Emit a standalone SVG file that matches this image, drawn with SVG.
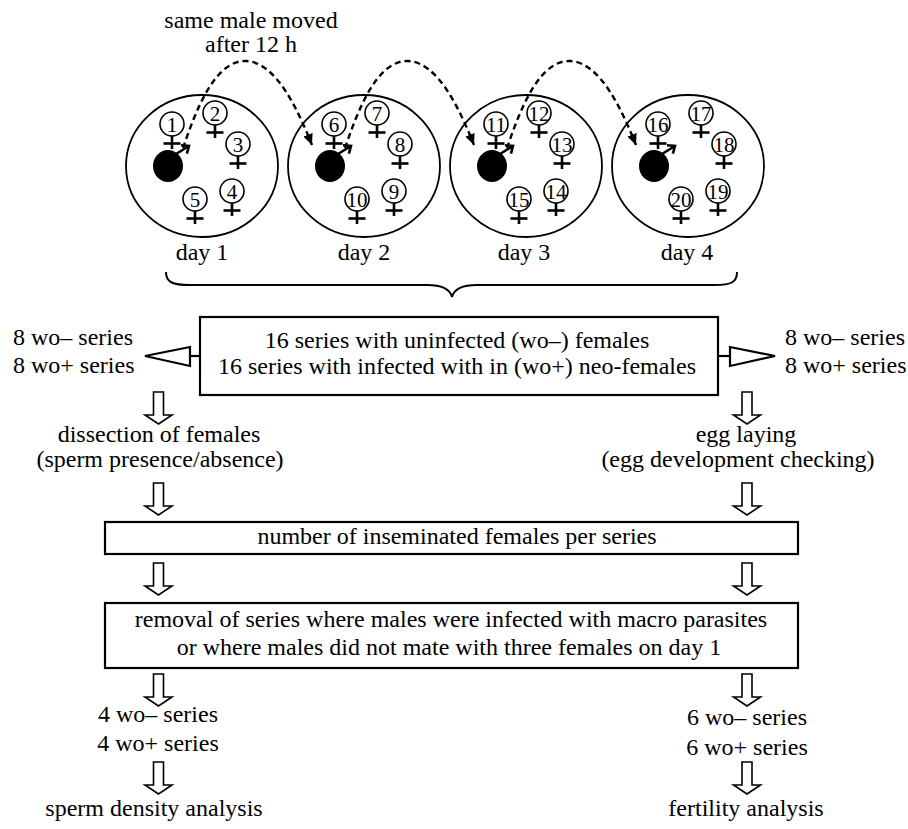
<svg xmlns="http://www.w3.org/2000/svg" xmlns:xlink="http://www.w3.org/1999/xlink" width="908" height="829" viewBox="0 0 908 829">
<style>
text{font-family:"Liberation Serif","Times New Roman",serif;font-size:24px;fill:#000}
.num{font-size:21px;text-anchor:middle}
.c{text-anchor:middle}
.outer{fill:none;stroke:#000;stroke-width:1.8}
.fc{fill:none;stroke:#000;stroke-width:1.6}
.cross{stroke:#000;stroke-width:2.6;fill:none}
.box{fill:#fff;stroke:#000;stroke-width:2.2}
.blk{fill:#fff;stroke:#000;stroke-width:1.6}
.dash{fill:none;stroke:#000;stroke-width:2.4;stroke-dasharray:6 4}
.ln{stroke:#000;stroke-width:2.2;fill:#fff}
</style>
<defs>
<g id="fem"><line class="cross" x1="0" y1="12" x2="0" y2="25"/><line class="cross" x1="-8.5" y1="19.5" x2="8.5" y2="19.5"/><circle class="fc" r="12"/></g>
<g id="male"><ellipse rx="15" ry="16" fill="#000"/><path class="cross" d="M8,-12 L21,-20 M13,-20.7 L21,-20 L18.9,-12.3"/></g>
<path id="darr" class="blk" d="M-5,0 H5 V23 H13.5 L0,32 L-13.5,23 H-5 Z"/>
<marker id="ah" markerUnits="userSpaceOnUse" markerWidth="12" markerHeight="10" refX="11" refY="5" orient="auto"><path d="M0,0 L11,5 L0,10 Z" fill="#000"/></marker>
</defs>

<g id="title">
<text class="c" x="251" y="28">same male moved</text>
<text class="c" x="251" y="52">after 12 h</text>
</g>

<g id="day1" transform="translate(202,166)">
<ellipse class="outer" rx="76" ry="71"/>
<use xlink:href="#male" x="-34" y="0"/>
<use xlink:href="#fem" x="-30" y="-42"/><text class="num" x="-30" y="-34.5">1</text>
<use xlink:href="#fem" x="13" y="-53"/><text class="num" x="13" y="-45.5">2</text>
<use xlink:href="#fem" x="36" y="-22"/><text class="num" x="36" y="-14.5">3</text>
<use xlink:href="#fem" x="30" y="25"/><text class="num" x="30" y="32.5">4</text>
<use xlink:href="#fem" x="-7" y="33"/><text class="num" x="-7" y="40.5">5</text>
<text class="c" x="0" y="94">day 1</text>
</g>
<g id="day2" transform="translate(364,166)">
<ellipse class="outer" rx="76" ry="71"/>
<use xlink:href="#male" x="-34" y="0"/>
<use xlink:href="#fem" x="-30" y="-42"/><text class="num" x="-30" y="-34.5">6</text>
<use xlink:href="#fem" x="13" y="-53"/><text class="num" x="13" y="-45.5">7</text>
<use xlink:href="#fem" x="36" y="-22"/><text class="num" x="36" y="-14.5">8</text>
<use xlink:href="#fem" x="30" y="25"/><text class="num" x="30" y="32.5">9</text>
<use xlink:href="#fem" x="-7" y="33"/><text class="num" x="-7" y="40.5">10</text>
<text class="c" x="0" y="94">day 2</text>
</g>
<g id="day3" transform="translate(526,166)">
<ellipse class="outer" rx="76" ry="71"/>
<use xlink:href="#male" x="-34" y="0"/>
<use xlink:href="#fem" x="-30" y="-42"/><text class="num" x="-30" y="-34.5">11</text>
<use xlink:href="#fem" x="13" y="-53"/><text class="num" x="13" y="-45.5">12</text>
<use xlink:href="#fem" x="36" y="-22"/><text class="num" x="36" y="-14.5">13</text>
<use xlink:href="#fem" x="30" y="25"/><text class="num" x="30" y="32.5">14</text>
<use xlink:href="#fem" x="-7" y="33"/><text class="num" x="-7" y="40.5">15</text>
<text class="c" x="-2" y="94">day 3</text>
</g>
<g id="day4" transform="translate(688,166)">
<ellipse class="outer" rx="76" ry="71"/>
<use xlink:href="#male" x="-34" y="0"/>
<use xlink:href="#fem" x="-30" y="-42"/><text class="num" x="-30" y="-34.5">16</text>
<use xlink:href="#fem" x="13" y="-53"/><text class="num" x="13" y="-45.5">17</text>
<use xlink:href="#fem" x="36" y="-22"/><text class="num" x="36" y="-14.5">18</text>
<use xlink:href="#fem" x="30" y="25"/><text class="num" x="30" y="32.5">19</text>
<use xlink:href="#fem" x="-7" y="33"/><text class="num" x="-7" y="40.5">20</text>
<text class="c" x="-1" y="94">day 4</text>
</g>

<g id="series-box">
<rect class="box" x="200" y="317" width="518" height="78"/>
<text class="c" x="457" y="348">16 series with uninfected (wo–) females</text>
<text class="c" x="457" y="374">16 series with infected with in (wo+) neo-females</text>
</g>
<g id="left-split">
<text x="13" y="345">8 wo– series</text>
<text x="13" y="373">8 wo+ series</text>
</g>
<g id="right-split">
<text x="785" y="345">8 wo– series</text>
<text x="785" y="373">8 wo+ series</text>
</g>
<g id="dissection">
<text class="c" x="159" y="442">dissection of females</text>
<text class="c" x="160" y="467">(sperm presence/absence)</text>
</g>
<g id="egg">
<text class="c" x="746" y="442">egg laying</text>
<text class="c" x="738" y="467">(egg development checking)</text>
</g>
<g id="insem-box">
<rect class="box" x="105" y="522" width="693" height="32"/>
<text class="c" x="457" y="544">number of inseminated females per series</text>
</g>
<g id="removal-box">
<rect class="box" x="105" y="603" width="693" height="65"/>
<text class="c" x="451" y="627">removal of series where males were infected with macro parasites</text>
<text class="c" x="449" y="655">or where males did not mate with three females on day 1</text>
</g>
<g id="left-result">
<text class="c" x="158" y="722">4 wo– series</text>
<text class="c" x="158" y="751">4 wo+ series</text>
</g>
<g id="right-result">
<text class="c" x="747" y="725">6 wo– series</text>
<text class="c" x="747" y="755">6 wo+ series</text>
</g>
<g id="sperm-density"><text class="c" x="154" y="816">sperm density analysis</text></g>
<g id="fertility"><text class="c" x="746" y="816">fertility analysis</text></g>

<g id="connectors">
<path class="dash" marker-end="url(#ah)" d="M183,148 C196,110 215,60 246,61 C276,62 298,110 312,145"/>
<path class="dash" marker-end="url(#ah)" transform="translate(162,0)" d="M183,148 C196,110 215,60 246,61 C276,62 298,110 312,145"/>
<path class="dash" marker-end="url(#ah)" transform="translate(324,0)" d="M183,148 C196,110 215,60 246,61 C276,62 298,110 312,145"/>
<path fill="none" stroke="#000" stroke-width="2" d="M166,272 C166,282 172,285 190,285 L427,285 C442,285 450,289 452,297 C454,289 462,285 477,285 L714,285 C732,285 737,282 737,272"/>
<line class="ln" x1="190" y1="356" x2="200" y2="356"/>
<path class="ln" d="M190,347 L145,356 L190,366 Z"/>
<line class="ln" x1="718" y1="356" x2="730" y2="356"/>
<path class="ln" d="M730,347 L775,356 L730,366 Z"/>
<use xlink:href="#darr" x="158.5" y="392"/>
<use xlink:href="#darr" x="747" y="392"/>
<use xlink:href="#darr" x="158.5" y="483"/>
<use xlink:href="#darr" x="747" y="483"/>
<use xlink:href="#darr" x="158.5" y="563"/>
<use xlink:href="#darr" x="747" y="563"/>
<use xlink:href="#darr" x="158.5" y="674"/>
<use xlink:href="#darr" x="747" y="674"/>
<use xlink:href="#darr" x="158.5" y="762"/>
<use xlink:href="#darr" x="747" y="762"/>
</g>
</svg>
